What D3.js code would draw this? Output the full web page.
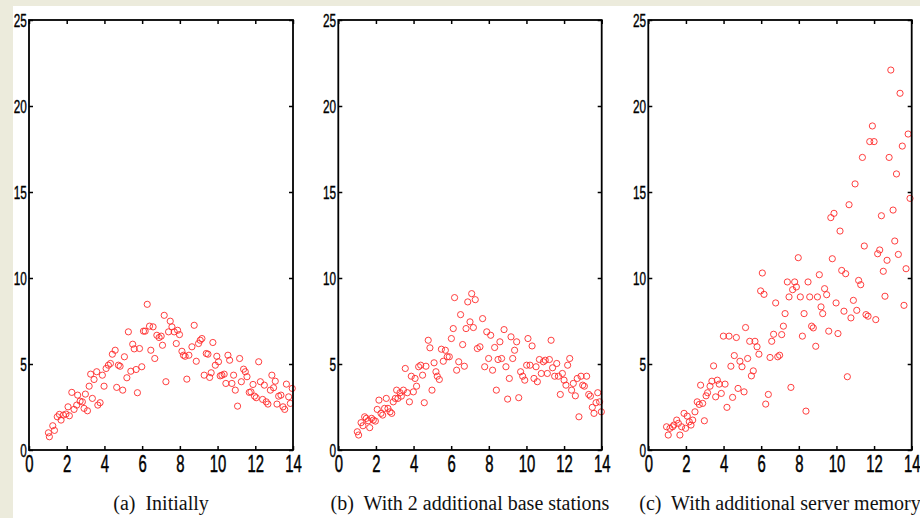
<!DOCTYPE html>
<html>
<head>
<meta charset="utf-8">
<script src="https://cdn.jsdelivr.net/npm/d3@7"></script>
<style>
  html, body { margin: 0; padding: 0; background: #ecebdc; }
  svg { display: block; }
  .cap { font-family: "Liberation Serif", "Times New Roman", serif; }
  .tick text { font-family: "Liberation Sans", Arial, sans-serif; }
</style>
</head>
<body>
<svg id="chart" width="920" height="518"></svg>
<script>
// ---------- data (x, y) ----------
const initially = [
  [1.03,1.0],[1.08,0.77],[1.26,1.41],[1.35,1.14],[1.5,1.93],[1.61,2.07],[1.7,1.74],[1.82,2.03],[1.96,2.09],[2.07,2.51],
  [2.14,1.99],[2.27,3.35],[2.39,2.36],[2.53,2.61],[2.58,3.19],[2.71,2.84],[2.83,2.8],[2.92,2.42],[2.99,3.25],[3.1,2.28],
  [3.19,3.71],[3.27,4.41],[3.36,3.0],[3.45,4.1],[3.59,4.55],[3.65,2.61],[3.77,2.75],[3.89,4.35],[3.98,3.71],[4.09,4.74],
  [4.21,4.93],[4.32,5.03],[4.42,5.57],[4.57,5.8],[4.65,3.64],[4.74,4.93],[4.83,4.87],[4.97,3.48],[5.06,5.42],[5.19,4.2],
  [5.27,6.87],[5.4,4.58],[5.5,6.15],[5.58,5.88],[5.68,4.68],[5.75,3.33],[5.86,5.9],[5.98,4.84],[6.07,6.91],[6.16,6.91],
  [6.27,8.47],[6.39,7.2],[6.46,5.8],[6.58,7.16],[6.67,5.32],[6.78,6.67],[6.9,6.54],[7.01,6.62],[7.08,6.09],[7.17,7.83],
  [7.26,3.97],[7.4,6.87],[7.49,7.49],[7.58,7.16],[7.7,6.87],[7.81,6.19],[7.88,6.96],[7.98,6.71],[8.11,5.74],[8.19,5.51],
  [8.28,5.45],[8.37,4.12],[8.48,5.51],[8.64,6.0],[8.76,7.25],[8.87,5.16],[8.99,6.19],[9.08,6.38],[9.17,6.48],[9.29,4.35],
  [9.4,5.61],[9.49,5.57],[9.58,4.22],[9.66,4.49],[9.75,6.25],[9.88,4.93],[9.96,5.45],[10.05,5.13],[10.14,4.31],[10.23,4.35],
  [10.35,4.41],[10.44,3.87],[10.55,5.51],[10.64,5.22],[10.76,3.87],[10.85,4.35],[10.94,3.48],[11.06,2.55],[11.17,5.32],[11.26,3.97],
  [11.38,4.7],[11.47,4.55],[11.56,4.26],[11.68,3.35],[11.77,3.38],[11.88,3.81],[11.96,3.13],[12.05,3.04],[12.18,5.13],[12.27,3.97],
  [12.39,2.94],[12.48,3.77],[12.58,2.8],[12.67,2.67],[12.8,3.48],[12.88,4.35],[12.97,3.62],[13.06,4.0],[13.15,2.67],[13.24,3.13],
  [13.36,3.19],[13.47,2.51],[13.56,2.36],[13.65,3.83],[13.77,3.09],[13.86,2.71],[13.96,3.58]
];
const baseStations = [
  [1.01,1.06],[1.08,0.87],[1.21,1.59],[1.31,1.41],[1.4,1.93],[1.49,1.84],[1.59,1.7],[1.67,1.3],[1.77,1.84],[1.86,1.74],
  [1.97,1.68],[2.07,2.36],[2.16,2.9],[2.27,2.13],[2.36,2.03],[2.46,2.42],[2.55,3.0],[2.64,2.42],[2.75,2.22],[2.84,2.13],
  [2.92,2.8],[3.03,3.0],[3.1,3.48],[3.17,3.0],[3.28,3.33],[3.35,3.13],[3.46,3.48],[3.56,4.74],[3.67,3.33],[3.78,2.8],
  [3.88,4.29],[3.99,3.38],[4.08,4.16],[4.16,3.71],[4.27,4.84],[4.38,4.93],[4.48,4.35],[4.57,2.75],[4.66,4.87],[4.78,6.38],
  [4.87,5.94],[4.98,3.48],[5.09,5.07],[5.19,4.55],[5.26,4.29],[5.37,4.1],[5.48,5.86],[5.58,5.16],[5.69,5.8],[5.79,5.42],
  [5.9,5.42],[6.01,6.48],[6.11,7.06],[6.18,8.86],[6.29,4.64],[6.4,5.13],[6.5,7.87],[6.61,6.13],[6.7,4.87],[6.79,7.06],
  [6.88,8.61],[7.0,7.45],[7.09,9.09],[7.18,7.12],[7.28,8.74],[7.39,5.9],[7.53,6.0],[7.67,7.64],[7.78,4.84],[7.89,6.87],
  [7.99,5.32],[8.1,6.67],[8.2,4.64],[8.31,5.96],[8.4,3.48],[8.49,5.26],[8.59,6.29],[8.68,5.32],[8.81,7.0],[8.91,4.84],
  [9.0,2.96],[9.09,4.16],[9.18,6.58],[9.27,5.32],[9.37,5.8],[9.48,6.29],[9.59,3.04],[9.69,4.55],[9.8,4.29],[9.91,4.06],
  [10.01,4.93],[10.08,6.48],[10.19,4.93],[10.3,6.05],[10.4,4.16],[10.51,4.84],[10.58,3.97],[10.69,5.26],[10.79,4.45],[10.9,5.13],
  [11.0,5.22],[11.11,4.45],[11.22,5.26],[11.31,6.38],[11.39,4.78],[11.5,4.29],[11.61,5.03],[11.7,4.29],[11.8,3.23],[11.91,4.45],
  [12.0,4.06],[12.1,3.77],[12.19,4.93],[12.3,5.32],[12.4,3.48],[12.49,3.87],[12.6,3.15],[12.7,4.16],[12.79,1.93],[12.9,4.29],
  [12.99,3.77],[13.08,3.71],[13.2,4.29],[13.31,3.23],[13.4,3.13],[13.5,2.48],[13.59,2.13],[13.7,2.75],[13.79,3.33],[13.89,2.8],
  [13.98,2.22]
];
const serverMemory = [
  [0.97,1.35],[1.06,0.87],[1.15,1.26],[1.29,1.35],[1.36,1.45],[1.51,1.74],[1.6,1.55],[1.68,0.87],[1.77,1.35],[1.9,2.13],
  [1.98,1.26],[2.07,1.97],[2.18,1.64],[2.27,1.45],[2.36,1.74],[2.48,2.22],[2.6,2.8],[2.71,2.65],[2.78,3.77],[2.89,2.71],
  [2.98,1.7],[3.07,3.15],[3.15,3.33],[3.28,3.71],[3.38,4.0],[3.47,4.89],[3.58,3.09],[3.67,4.06],[3.77,3.83],[3.88,3.29],
  [3.99,6.62],[4.08,3.83],[4.18,2.48],[4.29,6.62],[4.39,4.87],[4.48,3.06],[4.57,5.49],[4.68,6.54],[4.77,3.58],[4.87,5.16],
  [4.98,4.84],[5.09,3.38],[5.17,7.12],[5.28,5.32],[5.39,6.32],[5.48,4.31],[5.58,4.6],[5.67,6.32],[5.78,6.0],[5.88,5.57],
  [5.97,9.25],[6.06,10.29],[6.15,9.05],[6.24,2.67],[6.38,3.23],[6.47,5.38],[6.56,6.32],[6.66,6.73],[6.77,8.55],[6.88,5.42],
  [6.98,5.51],[7.09,6.71],[7.18,7.2],[7.27,7.93],[7.39,9.77],[7.48,8.9],[7.58,3.64],[7.67,9.32],[7.78,9.77],[7.87,9.48],
  [7.97,11.18],[8.08,8.9],[8.19,6.62],[8.28,7.93],[8.38,2.26],[8.49,9.77],[8.58,8.9],[8.68,7.2],[8.77,7.1],[8.9,6.03],
  [8.99,8.9],[9.09,10.19],[9.18,8.32],[9.27,7.93],[9.37,9.38],[9.48,9.03],[9.59,6.91],[9.7,13.51],[9.78,11.12],[9.87,13.76],
  [9.98,8.55],[10.08,6.77],[10.19,12.73],[10.28,10.44],[10.4,8.07],[10.49,10.25],[10.58,4.26],[10.67,14.26],[10.77,7.68],[10.9,8.7],
  [10.99,15.47],[11.08,8.12],[11.18,9.86],[11.29,9.61],[11.38,17.01],[11.48,11.86],[11.57,7.87],[11.68,7.78],[11.77,17.93],[11.91,18.84],
  [12.0,17.93],[12.09,7.58],[12.19,11.41],[12.3,11.63],[12.39,13.62],[12.49,10.39],[12.58,8.94],[12.69,11.03],[12.8,17.01],[12.89,22.09],
  [13.01,13.95],[13.1,12.15],[13.19,16.05],[13.29,11.37],[13.38,20.74],[13.5,17.67],[13.59,8.41],[13.7,10.54],[13.81,18.37],[13.91,14.63]
];
const xTicks = [0, 2, 4, 6, 8, 10, 12, 14];
const yTicks = [0, 5, 10, 15, 20, 25];
const captions = ["(a)  Initially", "(b)  With 2 additional base stations", "(c)  With additional server memory"];

// ---------- layout ----------
const svg = d3.select("#chart");
svg.append("rect").attr("x", 13).attr("y", 6).attr("width", 907).attr("height", 512).attr("fill", "#ffffff");

const panels = [
  { data: initially,    left: 29,    right: 293 },
  { data: baseStations, left: 338.3, right: 601.7 },
  { data: serverMemory, left: 648.3, right: 911.7 }
];
const plotTop = 20, plotBottom = 450;
const sx = 0.62;

panels.forEach((p, i) => {
  const x = d3.scaleLinear().domain([0, 14]).range([p.left, p.right]);
  const y = d3.scaleLinear().domain([0, 25]).range([plotBottom, plotTop]);
  const g = svg.append("g");

  // points
  g.append("g").selectAll("circle").data(p.data).join("circle")
    .attr("cx", d => x(d[0])).attr("cy", d => y(d[1])).attr("r", 3.1)
    .attr("fill", "none").attr("stroke", "#ff2a2a").attr("stroke-width", 0.9);

  // axes: ticks inside
  const ax = (gen, tx, ty) => {
    const a = g.append("g").attr("transform", `translate(${tx},${ty})`).call(gen);
    a.select(".domain").remove();
    a.selectAll("line").attr("stroke", "#000").attr("stroke-width", 1.5);
    return a;
  };
  const bx = ax(d3.axisBottom(x).tickValues(xTicks).tickSizeInner(-4).tickSizeOuter(0).tickPadding(5), 0, plotBottom);
  bx.selectAll("text").attr("font-size", 24).attr("fill", "#000")
    .attr("stroke", "#000").attr("stroke-width", 0.5)
    .attr("transform", `scale(${sx},1)`);
  ax(d3.axisTop(x).tickValues(xTicks).tickSizeInner(-4).tickSizeOuter(0).tickFormat(""), 0, plotTop);
  const ly = ax(d3.axisLeft(y).tickValues(yTicks).tickSizeInner(-4).tickSizeOuter(0).tickPadding(3.5), p.left, 0);
  ly.selectAll("text").attr("font-size", 19).attr("fill", "#000")
    .attr("stroke", "#000").attr("stroke-width", 0.4)
    .attr("transform", `scale(${sx},1)`);
  ax(d3.axisRight(y).tickValues(yTicks).tickSizeInner(-4).tickSizeOuter(0).tickFormat(""), p.right, 0);

  // box
  g.append("rect").attr("x", p.left).attr("y", plotTop).attr("width", p.right - p.left).attr("height", plotBottom - plotTop)
    .attr("fill", "none").attr("stroke", "#000").attr("stroke-width", 1.8);

  // caption
  g.append("text").attr("class", "cap").attr("x", (p.left + p.right) / 2).attr("y", 510)
    .attr("text-anchor", "middle").attr("font-size", 20).attr("fill", "#111")
    .style("white-space", "pre").text(captions[i]);
});
</script>
</body>
</html>
